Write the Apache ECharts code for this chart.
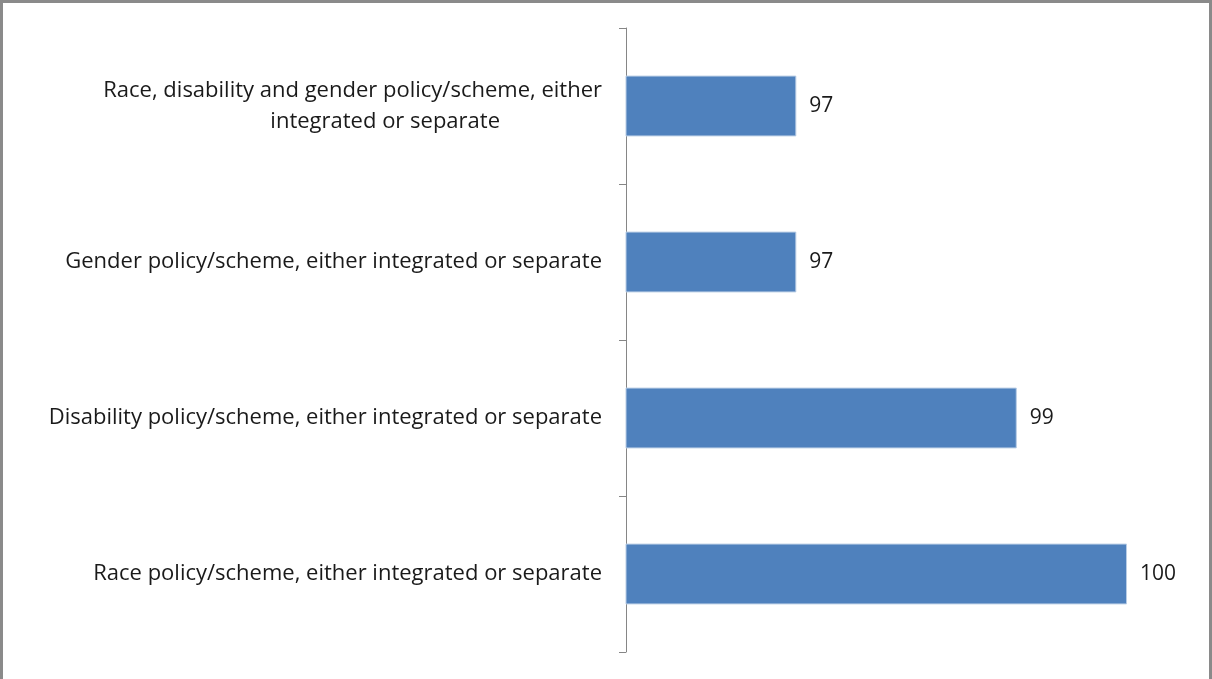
<!DOCTYPE html>
<html><head><meta charset="utf-8">
<script src="https://cdn.jsdelivr.net/npm/echarts@6/dist/echarts.min.js"></script>
<style>
html,body{margin:0;padding:0;background:#fff;}
#frame{position:absolute;left:0;top:0;width:1212px;height:679px;box-sizing:border-box;border-top:3px solid #8a8a8a;border-left:3px solid #8a8a8a;border-right:3px solid #8a8a8a;}
#chart{position:absolute;left:0;top:0;width:1212px;height:679px;}
</style></head>
<body>
<div id="chart"></div>
<div id="frame"></div>
<script>
const categories = [
  "Race policy/scheme, either integrated or separate",
  "Disability policy/scheme, either integrated or separate",
  "Gender policy/scheme, either integrated or separate",
  "Race, disability and gender policy/scheme, either\nintegrated or separate"
];
const values = [100, 98.9, 96.7, 96.7];
const axisMin = 95;
const axisMax = 100;

const chart = echarts.init(document.getElementById('chart'), null, {renderer: 'canvas'});
const font = '"Open Sans", "Noto Sans", sans-serif';
chart.setOption({
  animation: false,
  grid: {left: 626, right: 85, top: 28, bottom: 27, containLabel: false},
  xAxis: {
    type: 'value', min: axisMin, max: axisMax, show: false
  },
  yAxis: {
    type: 'category', data: categories,
    axisLine: {show: true, lineStyle: {color: '#868686', width: 1}},
    axisTick: {show: true, length: 7, lineStyle: {color: '#868686'}},
    axisLabel: {
      margin: 24, fontSize: 22, color: '#1a1a1a', fontFamily: font,
      formatter: function (v) {
        const parts = v.split('\n');
        if (parts.length === 1) return '{a|' + v + '}';
        return '{a|' + parts[0] + '}\n{b|' + parts[1] + '}';
      },
      rich: {
        a: {fontSize: 22, color: '#1a1a1a', fontFamily: font, lineHeight: 31},
        b: {fontSize: 22, color: '#1a1a1a', fontFamily: font, lineHeight: 31, padding: [0, 102, 0, 0]}
      }
    }
  },
  series: [{
    type: 'bar', data: values, barCategoryGap: '61%',
    itemStyle: {color: '#4f81bd', borderColor: '#b9cde5', borderWidth: 1},
    label: {
      show: true, position: 'right', distance: 13, fontSize: 21, color: '#1a1a1a', fontFamily: font,
      formatter: function (p) { return Math.round(p.value); }
    }
  }]
});
</script>
</body></html>
